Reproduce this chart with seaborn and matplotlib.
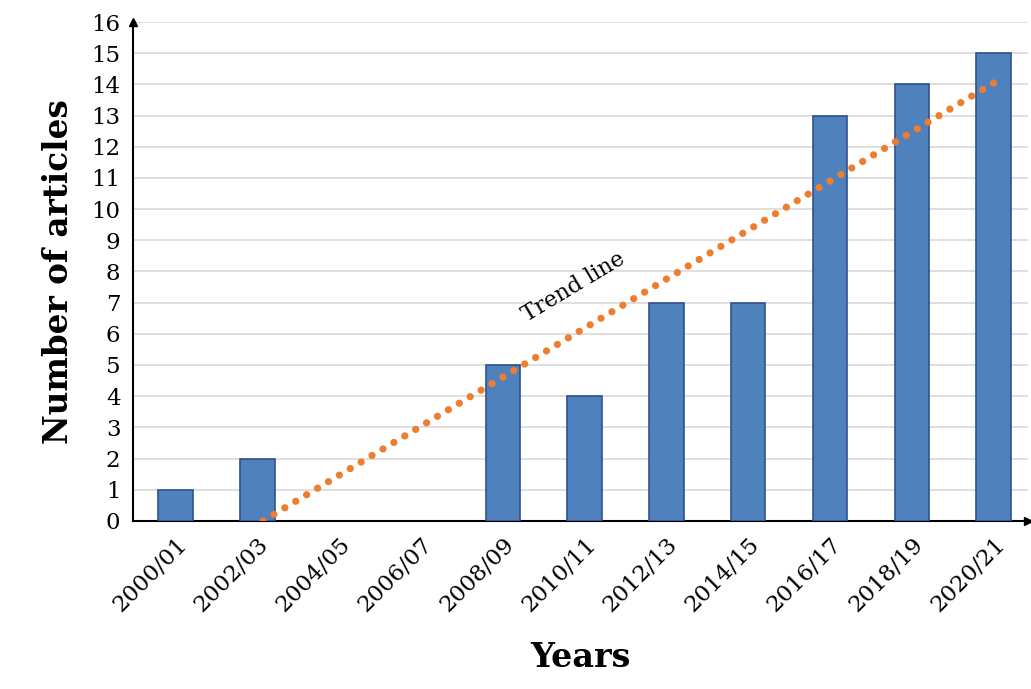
import numpy as np
import pandas as pd
import seaborn as sns
import matplotlib.pyplot as plt

# Data
years = ['2000/01', '2002/03', '2004/05', '2006/07', '2008/09', '2010/11',
         '2012/13', '2014/15', '2016/17', '2018/19', '2020/21']
articles = [1, 2, 0, 0, 5, 4, 7, 7, 13, 14, 15]

df = pd.DataFrame({'year': years, 'articles': articles})

sns.set_style('white')
plt.rcParams['font.family'] = ['DejaVu Serif']
plt.rcParams['text.color'] = 'black'
plt.rcParams['axes.labelcolor'] = 'black'
plt.rcParams['xtick.color'] = 'black'
plt.rcParams['ytick.color'] = 'black'

fig = plt.figure(figsize=(10.31, 6.89), dpi=100)
ax = fig.add_axes([0.129, 0.244, 0.868, 0.724])

# Bars
sns.barplot(data=df, x='year', y='articles', color='#4F81BD', width=0.42,
            edgecolor='#2F528F', linewidth=1.2, saturation=1, ax=ax, zorder=3)
# empty years get no visible outline
for patch, v in zip(ax.patches, articles):
    if v == 0:
        patch.set_visible(False)

# Linear trend line (least squares on the bar values), clipped at zero
x = np.arange(len(articles))
slope, intercept = np.polyfit(x, articles, 1)
x0 = -intercept / slope
tx = np.array([x0, x[-1]])
ax.plot(tx, slope * tx + intercept, color='#ED7D31', linewidth=5.2,
        linestyle=(0, (0.01, 1.75)), dash_capstyle='round', zorder=4)
ax.text(4.87, 7.5, 'Trend line', rotation=31, fontsize=16,
        ha='center', va='center', zorder=5)

# Axes styling
ax.set_xlim(-0.52, 10.42)
ax.set_ylim(0, 16)
ax.set_yticks(range(0, 17))
ax.yaxis.grid(True, color='#D9D9D9', linewidth=1.2, zorder=0)
ax.set_axisbelow(True)
for side in ['top', 'right']:
    ax.spines[side].set_visible(False)
for side in ['left', 'bottom']:
    ax.spines[side].set_color('black')
    ax.spines[side].set_linewidth(1.5)
ax.tick_params(axis='both', length=0, labelsize=16.5)
ax.tick_params(axis='y', pad=9)
ax.tick_params(axis='x', pad=9)
plt.setp(ax.get_xticklabels(), rotation=45, ha='right', rotation_mode='anchor')

# Arrow heads on the axes
ax.plot(0, 1, marker='^', color='black', markersize=6,
        transform=ax.transAxes, clip_on=False, zorder=6)
ax.plot(1, 0, marker='>', color='black', markersize=6,
        transform=ax.transAxes, clip_on=False, zorder=6)

ax.set_xlabel('Years', fontsize=24, fontweight='bold', labelpad=18)
ax.set_ylabel('Number of articles', fontsize=23.5, fontweight='bold', labelpad=12)

plt.savefig('out.png', dpi=100)
